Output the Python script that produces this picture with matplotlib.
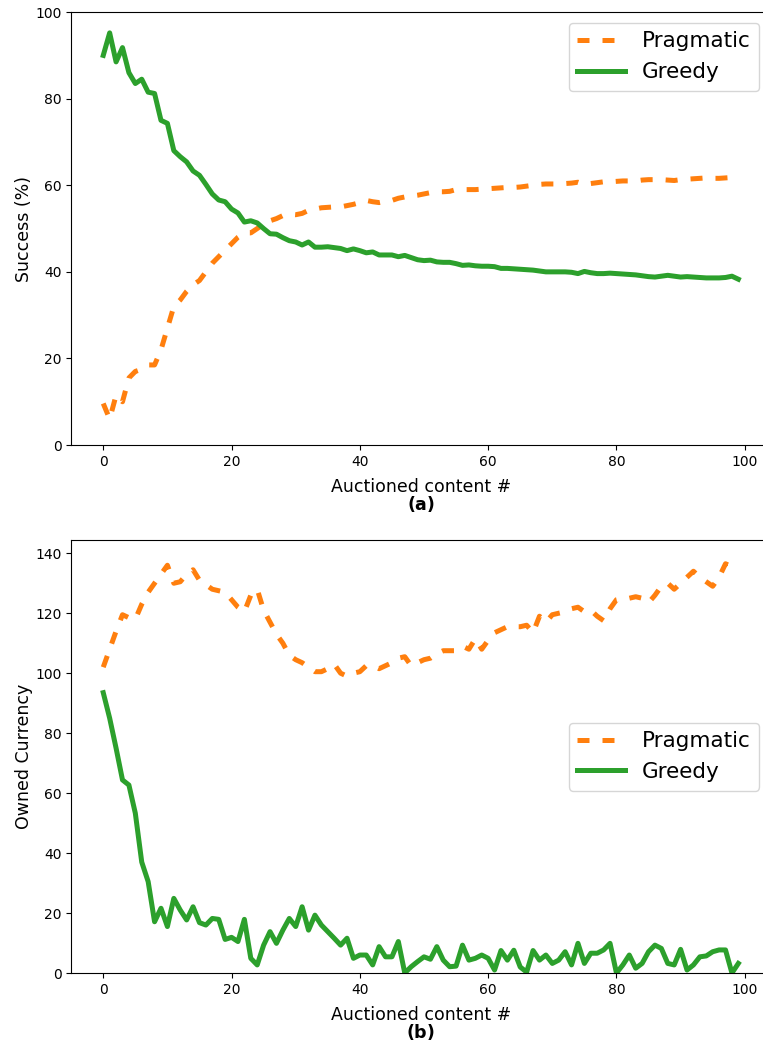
import matplotlib
matplotlib.use("Agg")
import matplotlib.pyplot as plt
import numpy as np

# auction rounds
rounds = np.arange(100)

# success rate (%) per strategy
success_pragmatic = [
    9.6, 6.0, 11.5, 10.0, 15.5, 17.0, 17.5, 18.5, 18.5, 22.0,
    27.0, 32.0, 33.5, 35.5, 37.0, 38.0, 40.0, 42.0, 43.5, 45.0,
    46.5, 48.0, 49.0, 49.0, 50.0, 51.0, 51.8, 52.3, 53.0, 53.3,
    53.2, 53.5, 54.2, 54.5, 54.8, 54.9, 55.0, 55.0, 55.3, 55.6,
    56.0, 56.5, 56.2, 56.0, 56.3, 56.5, 57.0, 57.3, 57.5, 57.7,
    58.0, 58.3, 58.5, 58.5, 58.6, 59.0, 59.0, 59.0, 59.0, 59.1,
    59.2, 59.3, 59.4, 59.5, 59.5, 59.6, 59.8, 60.0, 60.2, 60.3,
    60.3, 60.3, 60.4, 60.5, 60.7, 60.2, 60.4, 60.6, 60.8, 60.8,
    60.9, 61.0, 61.0, 61.0, 61.2, 61.3, 61.3, 61.3, 61.2, 61.1,
    61.3, 61.4, 61.5, 61.6, 61.7, 61.6, 61.6, 61.7, 61.8, 61.0,
]
success_greedy = [
    90.0, 95.2, 88.5, 91.8, 86.0, 83.5, 84.5, 81.5, 81.2, 75.0,
    74.3, 68.0, 66.6, 65.4, 63.3, 62.3, 60.2, 58.0, 56.6, 56.2,
    54.5, 53.6, 51.5, 51.8, 51.3, 50.0, 48.8, 48.7, 47.9, 47.2,
    46.9, 46.2, 46.9, 45.7, 45.7, 45.8, 45.6, 45.4, 44.9, 45.3,
    44.9, 44.4, 44.6, 43.9, 43.9, 43.9, 43.5, 43.8, 43.3, 42.8,
    42.6, 42.7, 42.3, 42.2, 42.2, 41.9, 41.5, 41.6, 41.4, 41.3,
    41.3, 41.2, 40.8, 40.8, 40.7, 40.6, 40.5, 40.4, 40.2, 40.0,
    40.0, 40.0, 40.0, 39.9, 39.6, 40.1, 39.8, 39.6, 39.6, 39.7,
    39.6, 39.5, 39.4, 39.3, 39.1, 38.9, 38.8, 39.0, 39.2, 39.0,
    38.8, 38.9, 38.8, 38.7, 38.6, 38.6, 38.6, 38.7, 39.0, 38.3,
]

# currency left after each round
currency_pragmatic = [
    102.0, 108.0, 114.0, 119.5, 118.5, 118.0, 123.0, 127.0, 130.0, 133.0,
    136.0, 130.0, 130.5, 133.0, 134.5, 131.0, 129.5, 128.0, 127.5, 127.0,
    124.5, 122.0, 120.5, 126.0, 128.0, 121.0, 117.0, 113.0, 110.0, 106.0,
    104.5, 103.5, 102.0, 100.5, 100.5, 101.5, 103.0, 100.0, 99.0, 100.0,
    100.5, 102.5, 102.5, 101.5, 102.5, 103.5, 105.0, 105.5, 102.5, 103.5,
    104.5, 105.0, 106.5, 107.5, 107.5, 107.5, 109.0, 108.0, 111.5, 108.0,
    111.0, 113.5, 114.5, 115.5, 115.5, 115.5, 116.0, 113.5, 119.0, 117.0,
    119.5, 120.0, 120.5, 121.5, 122.0, 120.5, 121.0, 119.0, 117.5, 121.5,
    124.5, 125.0, 125.0, 125.5, 125.0, 123.5, 126.0, 129.0, 130.0, 128.0,
    130.0, 132.0, 134.0, 132.0, 130.5, 129.0, 132.0, 136.5, 135.5, 134.0,
]
currency_greedy = [
    93.5, 85.0, 75.0, 64.4, 62.7, 53.3, 37.0, 30.5, 17.1, 21.6,
    15.5, 24.9, 21.0, 17.7, 22.1, 16.8, 16.0, 18.2, 17.9, 11.2,
    11.9, 10.5, 17.9, 4.9, 2.7, 9.3, 13.8, 9.9, 14.3, 18.2,
    15.5, 22.1, 14.3, 19.3, 16.0, 13.8, 11.6, 9.3, 11.6, 4.9,
    6.0, 6.0, 2.7, 8.8, 5.4, 5.4, 10.5, 0.0, 2.1, 3.8,
    5.4, 4.6, 8.8, 4.3, 2.1, 2.3, 9.3, 4.3, 4.9, 6.0,
    4.9, 1.0, 7.5, 4.3, 7.6, 2.0, 0.3, 7.5, 4.3, 6.0,
    3.2, 4.3, 7.1, 2.7, 9.9, 3.2, 6.6, 6.6, 7.7, 9.9,
    0.0, 2.7, 6.0, 1.6, 3.2, 7.1, 9.3, 8.2, 3.2, 2.7,
    7.9, 1.0, 2.7, 5.4, 5.7, 7.1, 7.7, 7.7, 0.0, 3.2,
]

ORANGE = "#ff7f0e"
GREEN = "#2ca02c"
LW = 3.6
DASH = (0, (2.4, 2.6))
LABEL_SIZE = 12.5

fig = plt.figure(figsize=(7.63, 10.42), dpi=100)
ax1 = fig.add_axes([0.0937, 0.5729, 0.9156, 0.4155])
ax2 = fig.add_axes([0.0937, 0.0662, 0.9156, 0.4155])

# (a) success rate
ax1.plot(rounds, success_pragmatic, color=ORANGE, lw=LW, linestyle=DASH, label="Pragmatic")
ax1.plot(rounds, success_greedy, color=GREEN, lw=LW, label="Greedy")
ax1.set_xlim(-4.95, 103.95)
ax1.set_ylim(0, 100)
ax1.set_ylabel("Success (%)", fontsize=LABEL_SIZE, labelpad=2)
ax1.set_xlabel("Auctioned content #\n" + r"$\bf{(a)}$", fontsize=LABEL_SIZE,
               labelpad=7, linespacing=0.85)
ax1.legend(loc="upper right", fontsize=15.5, handlelength=2.2)

# (b) owned currency
ax2.plot(rounds, currency_pragmatic, color=ORANGE, lw=LW, linestyle=DASH, label="Pragmatic")
ax2.plot(rounds, currency_greedy, color=GREEN, lw=LW, label="Greedy")
ax2.set_xlim(-4.95, 103.95)
ax2.set_ylim(0, 144.4)
ax2.set_yticks(np.arange(0, 141, 20))
ax2.set_ylabel("Owned Currency", fontsize=LABEL_SIZE, labelpad=2)
ax2.set_xlabel("Auctioned content #\n" + r"$\bf{(b)}$", fontsize=LABEL_SIZE,
               labelpad=7, linespacing=0.85)
ax2.legend(loc="center right", fontsize=15.5, handlelength=2.2)

for ax in (ax1, ax2):
    ax.set_xticks(np.arange(0, 101, 20))
    ax.tick_params(labelsize=10)
    # the canvas ends before the right edge of the axes
    ax.spines["right"].set_visible(False)

fig.savefig("out.png", dpi=100)
